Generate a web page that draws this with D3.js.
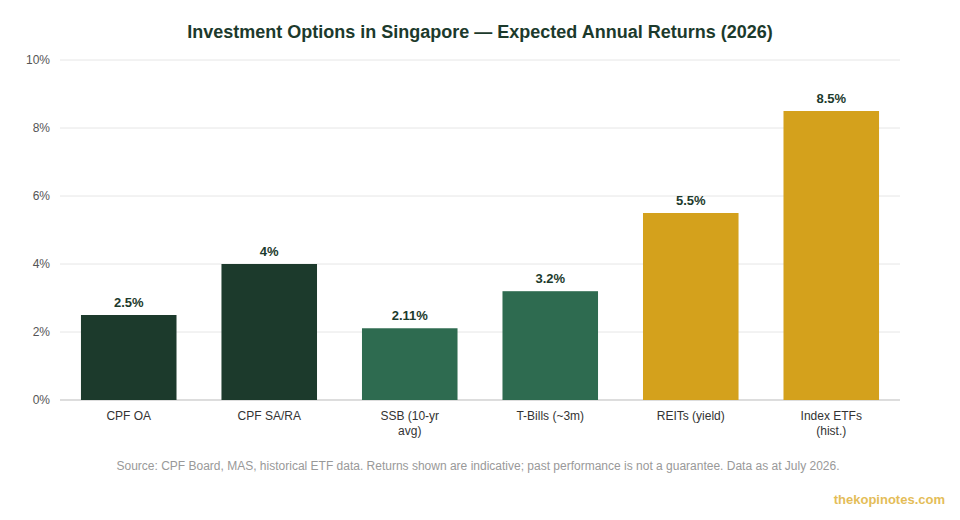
<!DOCTYPE html>
<html><head><meta charset="utf-8">
<script src="https://cdn.jsdelivr.net/npm/d3@7"></script>
<style>body{margin:0;background:#fff;font-family:"Liberation Sans",Arial,sans-serif}</style>
</head><body><div id="chart"></div>
<script>
var categories = ["CPF OA", "CPF SA/RA", "SSB (10-yr avg)", "T-Bills (~3m)", "REITs (yield)", "Index ETFs (hist.)"]
var labelLines = [["CPF OA"], ["CPF SA/RA"], ["SSB (10-yr", "avg)"], ["T-Bills (~3m)"], ["REITs (yield)"], ["Index ETFs", "(hist.)"]]
var returns = [2.5, 4, 2.11, 3.2, 5.5, 8.5]
var valueLabels = ["2.5%", "4%", "2.11%", "3.2%", "5.5%", "8.5%"]
var groups = ["cpf", "cpf", "gov", "gov", "mkt", "mkt"]
var yTicks = [0, 2, 4, 6, 8, 10]

var colors = {cpf: "#1c3a2c", gov: "#2e6b50", mkt: "#d4a11c"}

var svg = d3.select("#chart").append("svg").attr("width", 960).attr("height", 520)

svg.append("text").attr("x", 480).attr("y", 38).attr("text-anchor", "middle")
  .attr("font-size", 18).attr("font-weight", "bold").attr("fill", "#1c3a2c")
  .text("Investment Options in Singapore — Expected Annual Returns (2026)")

var x = d3.scaleBand().domain(categories).range([36, 924]).padding(0.32)
var y = d3.scaleLinear().domain([0, 10]).range([400, 60])

// grid + y labels
var grid = svg.append("g")
grid.selectAll("line").data(yTicks).enter().append("line")
  .attr("x1", 60).attr("x2", 900)
  .attr("y1", d => y(d)).attr("y2", d => y(d))
  .attr("stroke", d => d === 0 ? "#bbb" : "#e6e6e6")
grid.selectAll("text").data(yTicks).enter().append("text")
  .attr("x", 50).attr("y", d => y(d) + 4).attr("text-anchor", "end")
  .attr("font-size", 12).attr("fill", "#555").text(d => d + "%")

svg.append("g").selectAll("rect").data(returns).enter().append("rect")
  .attr("x", (d, i) => x(categories[i])).attr("width", x.bandwidth())
  .attr("y", d => y(d)).attr("height", d => y(0) - y(d))
  .attr("fill", (d, i) => colors[groups[i]])

svg.append("g").selectAll("text").data(returns).enter().append("text")
  .attr("x", (d, i) => x(categories[i]) + x.bandwidth() / 2)
  .attr("y", d => y(d) - 8).attr("text-anchor", "middle")
  .attr("font-size", 13).attr("font-weight", "bold").attr("fill", "#1c3a2c")
  .text((d, i) => valueLabels[i])

var xl = svg.append("g").selectAll("text").data(categories).enter().append("text")
  .attr("x", d => x(d) + x.bandwidth() / 2).attr("y", 420)
  .attr("text-anchor", "middle").attr("font-size", 12).attr("fill", "#333")
xl.each(function(d, i) {
  var t = d3.select(this)
  labelLines[i].forEach((l, j) => t.append("tspan").attr("x", x(d) + x.bandwidth() / 2).attr("dy", j ? 15 : 0).text(l))
})

svg.append("text").attr("x", 478).attr("y", 470).attr("text-anchor", "middle")
  .attr("font-size", 12).attr("fill", "#999")
  .text("Source: CPF Board, MAS, historical ETF data. Returns shown are indicative; past performance is not a guarantee. Data as at July 2026.")

svg.append("text").attr("x", 945).attr("y", 504).attr("text-anchor", "end")
  .attr("font-size", 13).attr("font-weight", "bold").attr("fill", "#e0b23a").attr("opacity", 0.85)
  .text("thekopinotes.com")
</script></body></html>
